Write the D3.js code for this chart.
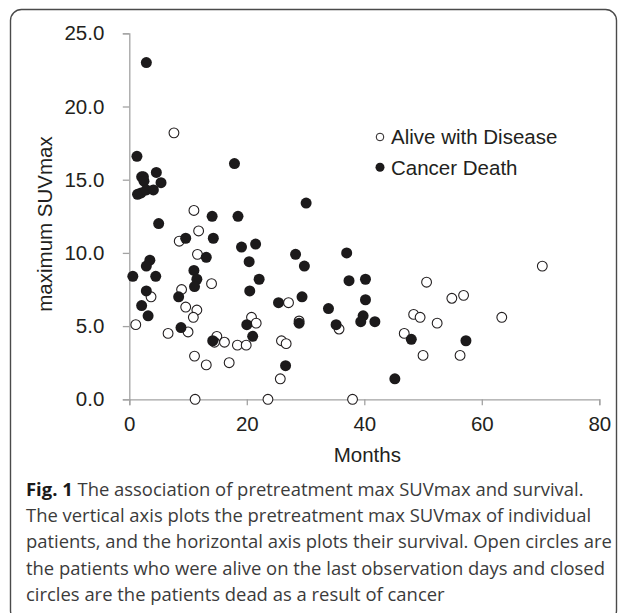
<!DOCTYPE html>
<html>
<head>
<meta charset="utf-8">
<script src="https://cdn.jsdelivr.net/npm/d3@7"></script>
<style>
  html, body { margin: 0; padding: 0; background: #fff; }
  svg { display: block; }
</style>
</head>
<body>
<svg id="chart" width="627" height="613"></svg>
<script>
// ---- data (months, maximum SUVmax) ----
const aliveMonths = [7.6, 11.0, 11.8, 8.5, 11.6, 14.0, 8.9, 3.7, 9.6, 11.5, 10.9, 1.1, 10.0, 6.6, 14.9, 16.2, 14.5, 18.4, 19.9, 11.1, 13.1, 17.0, 11.2, 23.6, 38.0, 20.8, 21.6, 25.9, 26.7, 25.7, 27.1, 28.9, 35.7, 50.6, 54.9, 56.9, 48.4, 49.5, 46.8, 52.4, 50.0, 56.3, 63.4, 70.3];
const aliveSUV    = [18.2, 12.9, 11.5, 10.8, 9.9, 7.9, 7.5, 7.0, 6.3, 6.1, 5.6, 5.1, 4.6, 4.5, 4.3, 3.9, 3.9, 3.7, 3.7, 2.95, 2.35, 2.5, 0, 0, 0, 5.6, 5.2, 4.0, 3.8, 1.4, 6.6, 5.35, 4.8, 8.0, 6.9, 7.1, 5.8, 5.6, 4.5, 5.2, 3.0, 3.0, 5.6, 9.1];

const deathMonths = [2.9, 1.3, 2.1, 2.4, 2.5, 1.4, 2.0, 2.9, 4.1, 4.6, 5.4, 5.0, 17.9, 14.1, 18.5, 14.3, 9.6, 30.1, 19.1, 21.5, 13.1, 20.4, 28.3, 29.8, 37.0, 0.6, 3.5, 2.9, 4.5, 11.0, 11.5, 11.1, 22.1, 20.5, 37.4, 40.2, 2.9, 8.4, 2.1, 3.2, 8.8, 25.4, 29.4, 33.9, 40.2, 20.0, 21.0, 14.2, 28.9, 35.2, 39.8, 39.4, 41.8, 26.6, 45.2, 48.0, 57.3];
const deathSUV    = [23.0, 16.6, 15.2, 15.2, 14.9, 14.0, 14.1, 14.3, 14.3, 15.5, 14.8, 12.0, 16.1, 12.5, 12.5, 11.0, 11.0, 13.4, 10.4, 10.6, 9.7, 9.4, 9.9, 9.1, 10.0, 8.4, 9.5, 9.1, 8.4, 8.8, 8.2, 7.7, 8.2, 7.4, 8.1, 8.2, 7.4, 7.0, 6.4, 5.7, 4.9, 6.6, 7.0, 6.2, 6.8, 5.1, 4.3, 4.0, 5.2, 5.1, 5.7, 5.3, 5.3, 2.3, 1.4, 4.1, 4.0];

const xTicks = [0, 20, 40, 60, 80];
const yTicks = [0, 5, 10, 15, 20, 25];
const seriesNames = ["Alive with Disease", "Cancer Death"];
const xTitle = "Months";
const yTitle = "maximum SUVmax";
const captionBold = "Fig. 1";
const captionLines = [
  " The association of pretreatment max SUVmax and survival.",
  "The vertical axis plots the pretreatment max SUVmax of individual",
  "patients, and the horizontal axis plots their survival. Open circles are",
  "the patients who were alive on the last observation days and closed",
  "circles are the patients dead as a result of cancer"
];

// ---- layout ----
const svg = d3.select("#chart");
const plot = { left: 129.3, right: 599.3, top: 33.3, bottom: 399.3 };
const axisFont = "'Liberation Sans', Arial, sans-serif";
const textColor = "#231f20";
const axisColor = "#a3a3a3";

// frame
svg.append("rect")
  .attr("x", 10.5).attr("y", 9.5)
  .attr("width", 606).attr("height", 612)
  .attr("rx", 11).attr("ry", 11)
  .attr("fill", "none").attr("stroke", "#4a4a4a").attr("stroke-width", 1.4);

const x = d3.scaleLinear().domain([0, 80]).range([plot.left, plot.right]);
const y = d3.scaleLinear().domain([0, 25]).range([plot.bottom, plot.top]);

// x axis
const gx = svg.append("g")
  .attr("transform", `translate(0,${plot.bottom})`)
  .call(d3.axisBottom(x).tickValues(xTicks).tickFormat(d3.format("d")).tickSizeOuter(0).tickSize(6).tickPadding(11));
// y axis
const gy = svg.append("g")
  .attr("transform", `translate(${plot.left},0)`)
  .call(d3.axisLeft(y).tickValues(yTicks).tickFormat(d3.format(".1f")).tickSizeOuter(0).tickSize(6.5).tickPadding(18.5));

[gx, gy].forEach(g => {
  g.select(".domain").attr("stroke", axisColor).attr("stroke-width", 1.3);
  g.selectAll(".tick line").attr("stroke", axisColor).attr("stroke-width", 1.3);
  g.selectAll(".tick text")
    .attr("fill", textColor)
    .style("font-family", axisFont)
    .style("font-size", "20.5px");
});

// axis titles
svg.append("text")
  .attr("x", (plot.left + plot.right) / 2 + 3).attr("y", 462)
  .attr("text-anchor", "middle")
  .attr("fill", textColor)
  .style("font-family", axisFont).style("font-size", "20.5px")
  .text(xTitle);

svg.append("text")
  .attr("transform", `translate(51.5,${224}) rotate(-90)`)
  .attr("text-anchor", "middle")
  .attr("fill", textColor)
  .style("font-family", axisFont).style("font-size", "20.5px")
  .text(yTitle);

// points
const alive = aliveMonths.map((m, i) => ({ m, v: aliveSUV[i] }));
const death = deathMonths.map((m, i) => ({ m, v: deathSUV[i] }));

svg.append("g").selectAll("circle").data(alive).join("circle")
  .attr("cx", d => x(d.m)).attr("cy", d => y(d.v)).attr("r", 4.9)
  .attr("fill", "#fff").attr("stroke", "#231f20").attr("stroke-width", 1.1);

svg.append("g").selectAll("circle").data(death).join("circle")
  .attr("cx", d => x(d.m)).attr("cy", d => y(d.v)).attr("r", 5.5)
  .attr("fill", "#1c1a1b");

// legend
const legend = svg.append("g").attr("transform", "translate(380,0)");
const legendY = [137, 167.3];
seriesNames.forEach((name, i) => {
  legend.append("circle")
    .attr("cx", 0).attr("cy", legendY[i]).attr("r", i === 0 ? 3.8 : 4.5)
    .attr("fill", i === 0 ? "#fff" : "#1c1a1b")
    .attr("stroke", i === 0 ? "#231f20" : "none").attr("stroke-width", 1);
  legend.append("text")
    .attr("x", 11).attr("y", legendY[i] + 7.3)
    .attr("fill", textColor)
    .style("font-family", axisFont).style("font-size", "20.5px")
    .text(name);
});

// caption: pick one font size so that the longest line fits the measured width
const capBaselines = [495.7, 522, 548.3, 574.6, 601];
const capTargetLongest = 586; // width of the widest caption line in the reference
const capFont = "'Open Sans', 'Noto Sans', sans-serif";
const capTexts = captionLines.map((line, i) => {
  const t = svg.append("text")
    .attr("x", 26).attr("y", capBaselines[i])
    .attr("fill", "#3b3b3b")
    .style("font-family", capFont)
    .style("font-size", "19.5px");
  if (i === 0) {
    t.append("tspan").attr("font-weight", "bold").attr("fill", "#1a1a1a").text(captionBold);
  }
  t.append("tspan").text(line);
  return t;
});
const widest = d3.max(capTexts, t => t.node().getComputedTextLength());
const capSize = Math.min(19.5, 19.5 * capTargetLongest / widest);
capTexts.forEach(t => t.style("font-size", capSize.toFixed(2) + "px"));
</script>
</body>
</html>
